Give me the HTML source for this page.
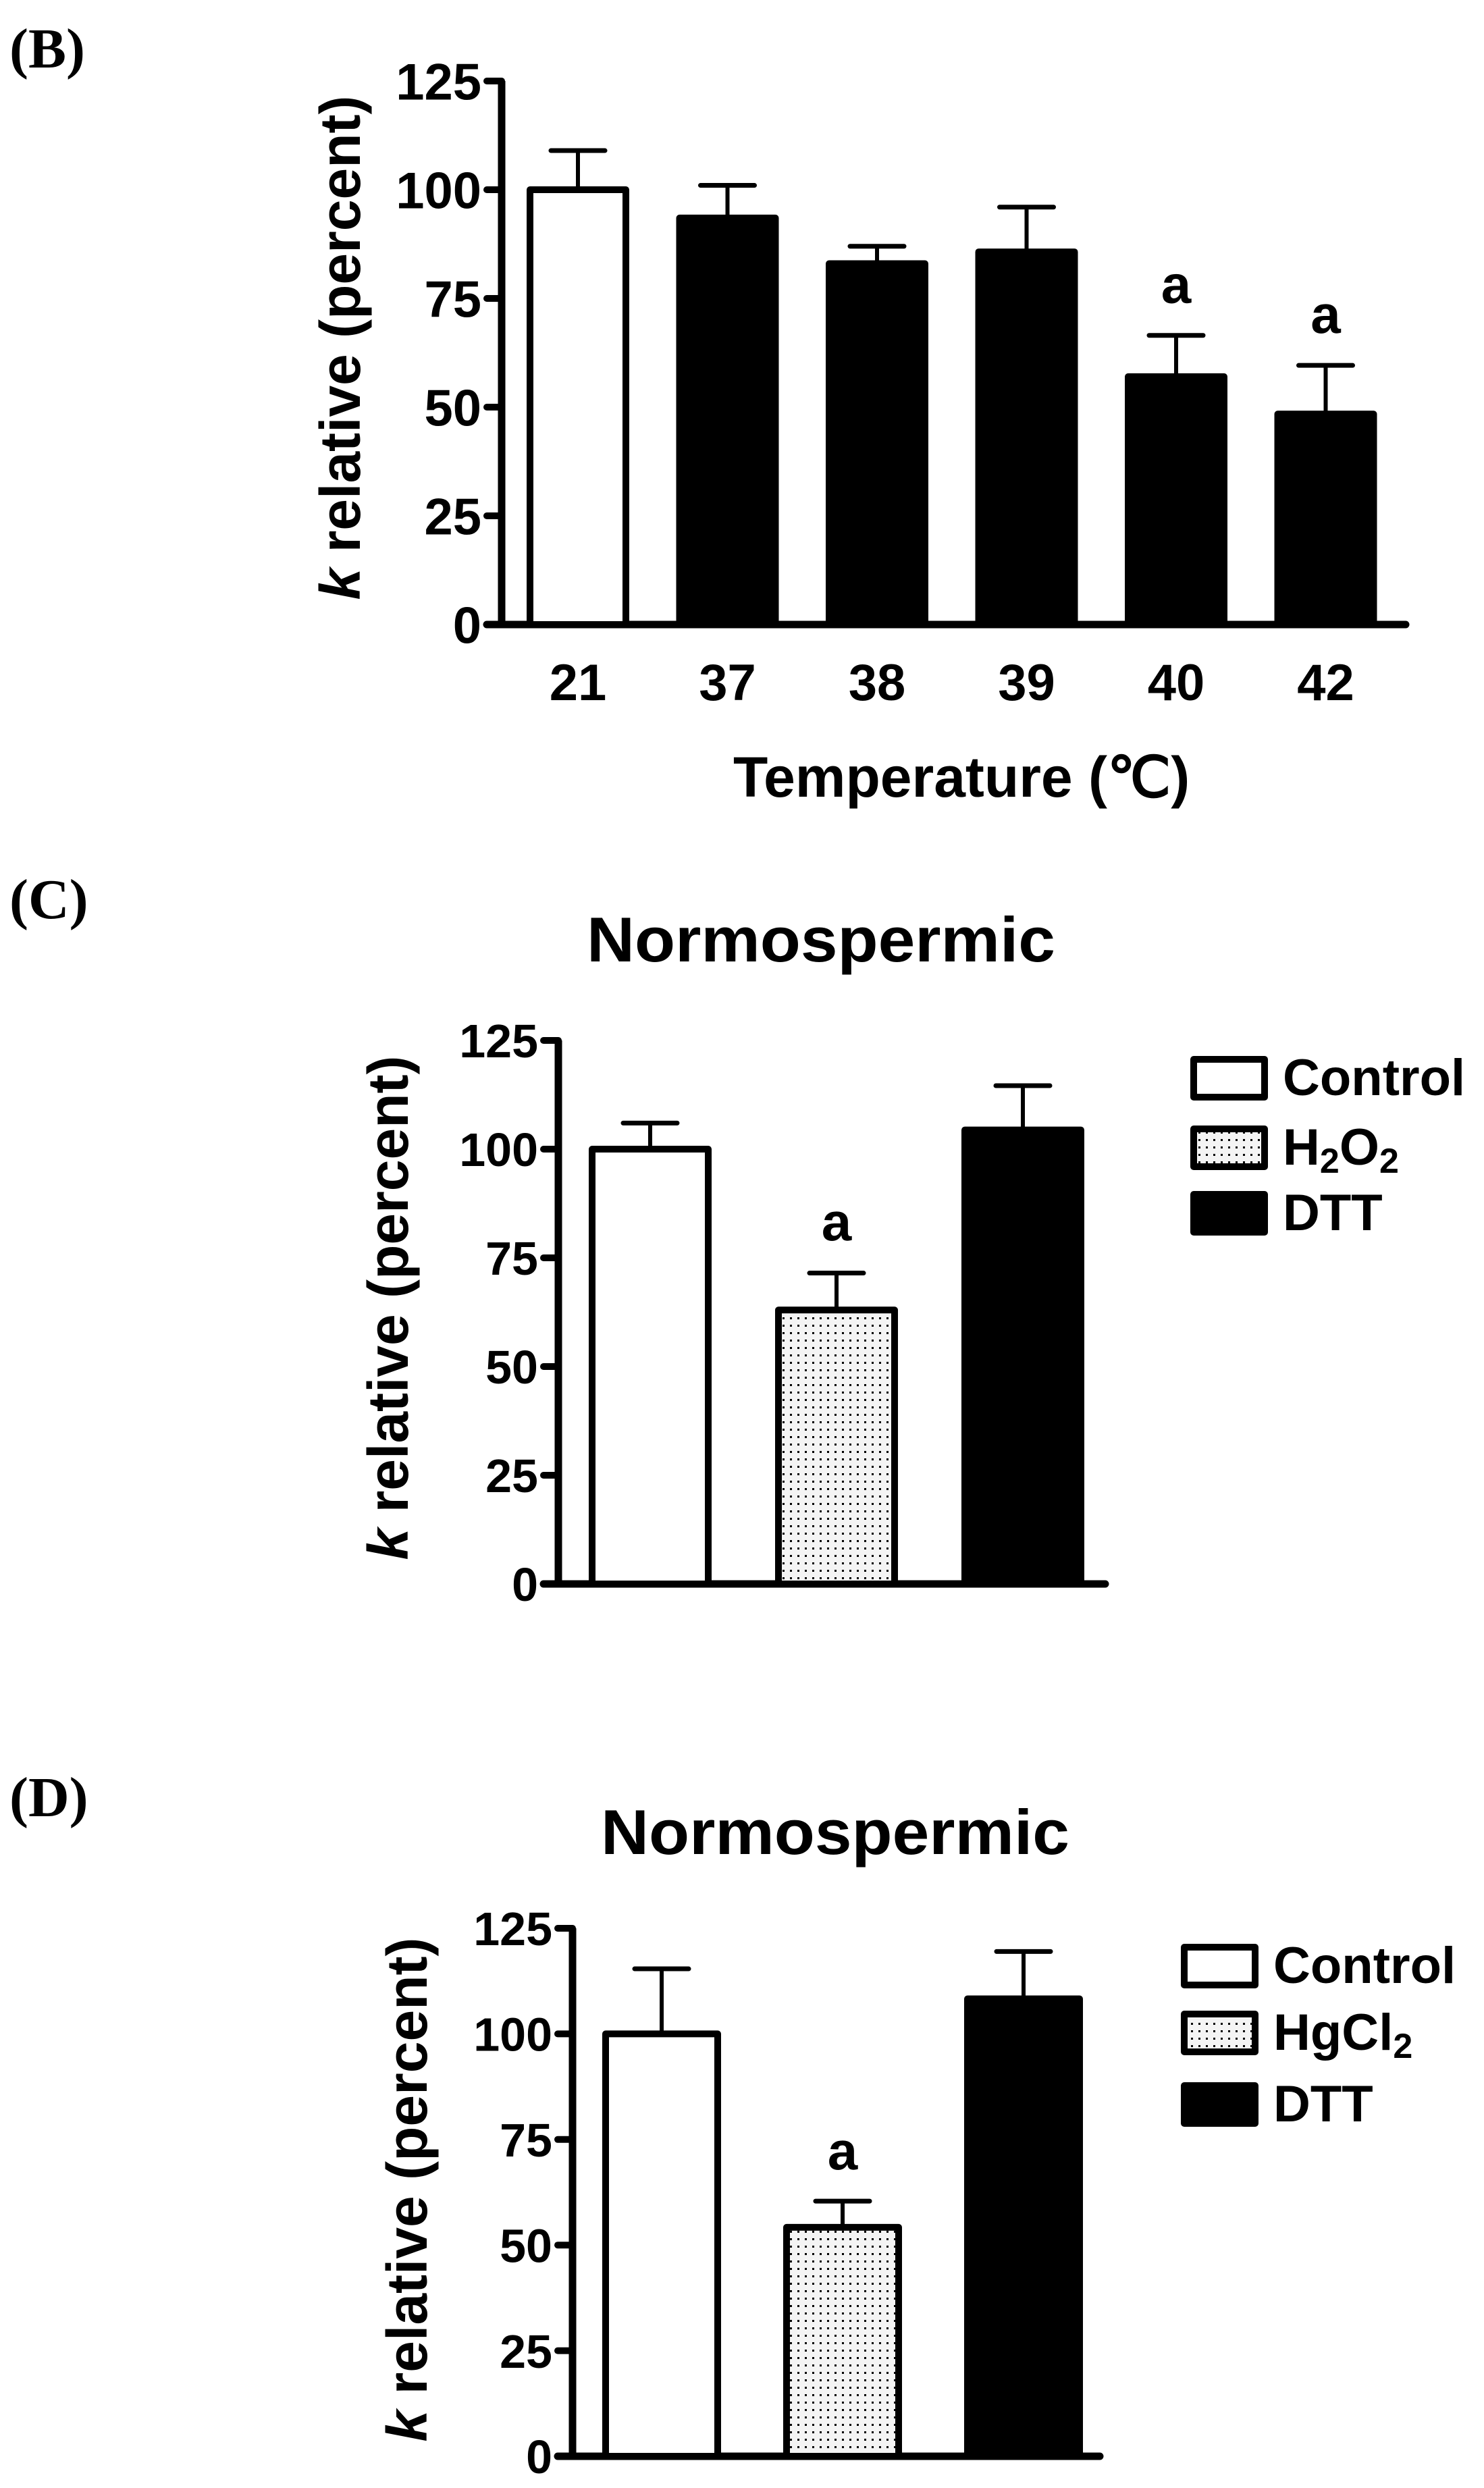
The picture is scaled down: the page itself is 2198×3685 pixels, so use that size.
<!DOCTYPE html>
<html><head><meta charset="utf-8"><style>
html,body{margin:0;padding:0;background:#fff;}
svg{display:block;}
text{font-family:"Liberation Sans",Arial,sans-serif;font-weight:bold;fill:#000;}
.serif{font-family:"Liberation Serif","Times New Roman",serif;font-weight:bold;}
</style></head><body>
<svg id="fig" width="2198" height="3685" viewBox="0 0 2198 3685" xmlns="http://www.w3.org/2000/svg">
<defs>
<pattern id="dots" width="11" height="11" patternUnits="userSpaceOnUse">
<rect width="11" height="11" fill="#f4f4f4"/><rect x="4" y="4" width="3" height="3" fill="#000"/>
</pattern>
</defs>
<text class="serif" x="14" y="100" font-size="84">(B)</text>
<text class="serif" x="14" y="1360" font-size="84">(C)</text>
<text class="serif" x="14" y="2690" font-size="84">(D)</text>
</svg>
<script>
// Panel B data
const bCategories = ["21","37","38","39","40","42"];
const bValues = [100, 93.5, 83, 85.7, 57, 48.4];
const bErrors = [109, 101, 87, 96, 66.5, 59.6];
const bFills = ["white","black","black","black","black","black"];
const bSig = ["","","","","a","a"];
// Panel C data
const cCategories = ["Control","H2O2","DTT"];
const cValues = [100, 63, 104.4];
const cErrors = [106, 71.5, 114.6];
const cSig = ["","a",""];
// Panel D data
const dCategories = ["Control","HgCl2","DTT"];
const dValues = [100, 54.2, 108.3];
const dErrors = [115.4, 60.4, 119.5];
const dSig = ["","a",""];
const yTicks = [0,25,50,75,100,125];

const NS="http://www.w3.org/2000/svg";
const svg=document.getElementById('fig');
function mk(tag,attrs,parent){const e=document.createElementNS(NS,tag);for(const k in attrs)e.setAttribute(k,attrs[k]);(parent||svg).appendChild(e);return e;}

function panel(cfg){
  const g=mk('g',{});
  
  
  const y=v=>cfg.y0-(v/125)*(cfg.y0-cfg.y125);
  const ax=mk('line',{x1:cfg.ax,y1:cfg.y125,x2:cfg.ax,y2:cfg.y0+5,stroke:'#000','stroke-width':11},g);
  
  
  const xa=mk('line',{x1:cfg.ax-22,y1:cfg.y0,x2:cfg.axEnd,y2:cfg.y0,stroke:'#000','stroke-width':11,'stroke-linecap':'round'},g);
  
  
  yTicks.forEach(t=>{
    const tk=mk('line',{x1:cfg.ax-22,y1:y(t),x2:cfg.ax,y2:y(t),stroke:'#000','stroke-width':10,'stroke-linecap':'round'},g);
    
    
    const tl=mk('text',{x:cfg.ax-30,y:y(t)+cfg.tf*0.36,'font-size':cfg.tf,'text-anchor':'end'},g);
    tl.textContent=String(t);
    
    
  });
  const yt=mk('text',{x:0,y:0,'font-size':84,'text-anchor':'middle',transform:`translate(${cfg.ytx},${cfg.yty}) rotate(-90)`},g);
  
  
  const ki=mk('tspan',{'font-style':'italic'},yt);ki.textContent='k';
  const kr=mk('tspan',{},yt);kr.textContent=' relative (percent)';
  cfg.values.forEach((v,i)=>{
    const cx=cfg.x0+i*cfg.pitch;
    const bw=cfg.bw;
    const top=y(v);
    const e=y(cfg.errors[i]);
    const el=mk('line',{x1:cx,y1:e,x2:cx,y2:top,stroke:'#000','stroke-width':6},g);
    
    
    const cap=mk('line',{x1:cx-40,y1:e,x2:cx+40,y2:e,stroke:'#000','stroke-width':7,'stroke-linecap':'round'},g);
    
    
    const fill=cfg.fills[i];
    const r=mk('rect',{x:cx-bw/2+5,y:top,width:bw-10,height:cfg.y0-top,fill:fill,stroke:'#000','stroke-width':10,'stroke-linejoin':'round'},g);
    
    
    if(cfg.sig[i]){
      const s=mk('text',{x:cx,y:e-(cfg.y0-cfg.y125)*0.06,'font-size':80,'text-anchor':'middle'},g);
      s.textContent=cfg.sig[i];
      
      
    }
    if(cfg.xlabels){
      const xl=mk('text',{x:cx,y:cfg.y0+112,'font-size':76,'text-anchor':'middle'},g);
      xl.textContent=cfg.cats[i];
      
      
    }
  });
  return g;
}

panel({name:'panel-b-chart',ax:743,axEnd:2082,y0:925,y125:120,x0:856,pitch:221.5,bw:152,tf:76,ytx:533,yty:515,
  values:bValues,errors:bErrors,fills:bFills,sig:bSig,cats:bCategories,xlabels:true});
const xt=mk('text',{x:1086,y:1180,'font-size':84});
xt.textContent='Temperature (\u2103)';



panel({name:'panel-c-chart',ax:827,axEnd:1637,y0:2346,y125:1541,x0:963,pitch:276,bw:182,tf:70,ytx:604,yty:1937,
  values:cValues,errors:cErrors,fills:['white','url(#dots)','black'],sig:cSig,cats:cCategories,xlabels:false});
panel({name:'panel-d-chart',ax:848,axEnd:1629,y0:3638,y125:2856,x0:980,pitch:268,bw:176,tf:70,ytx:632,yty:3243,
  values:dValues,errors:dErrors,fills:['white','url(#dots)','black'],sig:dSig,cats:dCategories,xlabels:false});

function title(x,y,name){const t=mk('text',{x:x,y:y,'font-size':94,textLength:694,lengthAdjust:'spacingAndGlyphs'});t.textContent='Normospermic';
  
  }
title(869,1424,'panel-c-title');
title(890,2746,'panel-d-title');

function legend(x,ys,labels,subs,fills,name){
  const g=mk('g',{});
  
  
  ys.forEach((yy,i)=>{
    const r=mk('rect',{x:x+5,y:yy+5,width:105,height:56,fill:fills[i],stroke:'#000','stroke-width':10,'stroke-linejoin':'round'},g);
    
    
    const t=mk('text',{x:x+137,y:yy+58,'font-size':76},g);
    
    
    subs[i].forEach(p=>{const s=mk('tspan',p[1]?{'font-size':52,dy:12}:{'font-size':76,dy:p[2]||0},t);s.textContent=p[0];});
  });
}
legend(1763,[1564,1667,1764],null,[[['Control']],[['H'],['2',1],['O',0,-12],['2',1]],[['DTT']]],['white','url(#dots)','black'],'panel-c-legend');
legend(1749,[2879,2978,3084],null,[[['Control']],[['HgCl'],['2',1]],[['DTT']]],['white','url(#dots)','black'],'panel-d-legend');
</script>
</body></html>
